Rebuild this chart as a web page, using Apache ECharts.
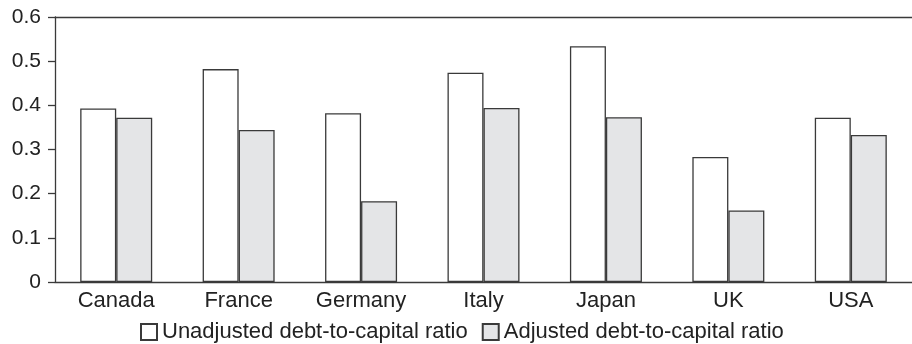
<!DOCTYPE html>
<html>
<head>
<meta charset="utf-8">
<script src="https://cdn.jsdelivr.net/npm/echarts@6/dist/echarts.min.js"></script>
<style>
  html, body { margin: 0; padding: 0; background: #fff; }
  #chart { width: 912px; height: 344px; }
</style>
</head>
<body>
<div id="chart"></div>
<script>
// data
const countries = ['Canada', 'France', 'Germany', 'Italy', 'Japan', 'UK', 'USA']
const unadjusted = [0.393, 0.482, 0.382, 0.474, 0.534, 0.283, 0.372]
const adjusted = [0.372, 0.344, 0.183, 0.394, 0.373, 0.162, 0.333]
const yTicks = [0, 0.1, 0.2, 0.3, 0.4, 0.5, 0.6]

const font = 'Liberation Sans, Arial, sans-serif'
const ink = '#222'
const edge = '#3a3a3a'

const chart = echarts.init(document.getElementById('chart'))

chart.setOption({
    animation: false,
    textStyle: { fontFamily: font, color: ink },
    grid: { left: 55, right: 0, top: 17, bottom: 62 },
    legend: {
        left: 140,
        top: 321,
        padding: 0,
        itemWidth: 16,
        itemHeight: 16,
        itemGap: 14,
        textStyle: { fontSize: 22, color: ink, fontFamily: font },
        data: [
            { name: 'Unadjusted debt-to-capital ratio', icon: 'rect' },
            { name: 'Adjusted debt-to-capital ratio', icon: 'rect' },
        ],
    },
    xAxis: [
        {
            type: 'category',
            data: countries,
            axisLine: { lineStyle: { color: edge, width: 1.3 } },
            axisTick: { show: false },
            axisLabel: { fontSize: 22, color: ink, margin: 8 },
        },
        {
            // top border line
            type: 'category',
            position: 'top',
            data: countries,
            axisLine: { lineStyle: { color: edge, width: 1.3 } },
            axisTick: { show: false },
            axisLabel: { show: false },
        },
    ],
    yAxis: {
        type: 'value',
        min: 0,
        max: 0.6,
        interval: 0.1,
        axisLine: { show: true, lineStyle: { color: edge, width: 1.3 } },
        axisTick: { show: true, length: 7, lineStyle: { color: edge, width: 1.3 } },
        splitLine: { show: false },
        axisLabel: {
            fontSize: 21,
            color: ink,
            margin: 14,
            formatter: v => {
                const t = yTicks.find(k => Math.abs(k - v) < 1e-9)
                return t === 0 ? '0' : t.toFixed(1)
            },
        },
    },
    series: [
        {
            name: 'Unadjusted debt-to-capital ratio',
            type: 'bar',
            data: unadjusted,
            barWidth: 36,
            barGap: '0%',
            itemStyle: { color: '#ffffff', borderColor: edge, borderWidth: 1.3 },
        },
        {
            name: 'Adjusted debt-to-capital ratio',
            type: 'bar',
            data: adjusted,
            barWidth: 36,
            barGap: '0%',
            itemStyle: { color: '#e4e5e7', borderColor: edge, borderWidth: 1.3 },
        },
    ],
})
</script>
</body>
</html>
